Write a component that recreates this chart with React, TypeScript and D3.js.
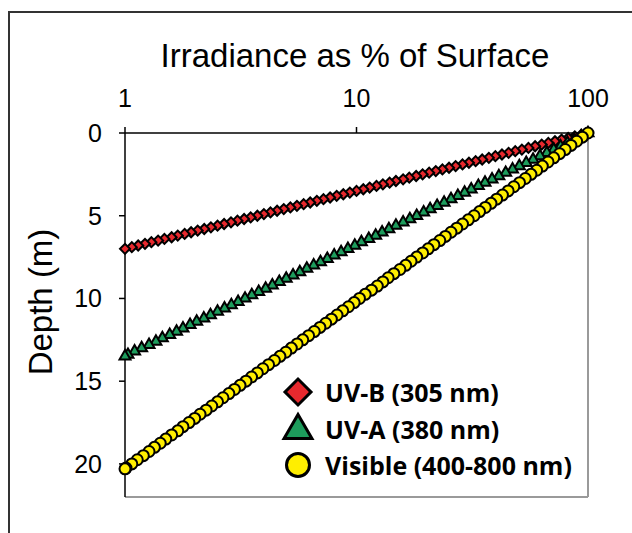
import React from "react";
import * as d3 from "d3";

// depth (m) and irradiance (% of surface)
const uvbDepth = [0, 0.1, 0.2, 0.3, 0.4, 0.5, 0.6, 0.7, 0.8, 0.9, 1.0, 1.1, 1.2, 1.3, 1.4, 1.5, 1.6, 1.7, 1.8, 1.9, 2.0, 2.1, 2.2, 2.3, 2.4, 2.5, 2.6, 2.7, 2.8, 2.9, 3.0, 3.1, 3.2, 3.3, 3.4, 3.5, 3.6, 3.7, 3.8, 3.9, 4.0, 4.1, 4.2, 4.3, 4.4, 4.5, 4.6, 4.7, 4.8, 4.9, 5.0, 5.1, 5.2, 5.3, 5.4, 5.5, 5.6, 5.7, 5.8, 5.9, 6.0, 6.1, 6.2, 6.3, 6.4, 6.5, 6.6, 6.7, 6.8, 6.9, 7.0];
const uvbPct = [100, 93.6, 87.7, 82.1, 76.9, 72.0, 67.4, 63.1, 59.1, 55.3, 51.8, 48.5, 45.4, 42.5, 39.8, 37.3, 34.9, 32.7, 30.6, 28.7, 26.8, 25.1, 23.5, 22.0, 20.6, 19.3, 18.1, 16.9, 15.9, 14.8, 13.9, 13.0, 12.2, 11.4, 10.7, 10.0, 9.36, 8.77, 8.21, 7.69, 7.20, 6.74, 6.31, 5.91, 5.53, 5.18, 4.85, 4.54, 4.25, 3.98, 3.73, 3.49, 3.27, 3.06, 2.87, 2.68, 2.51, 2.35, 2.20, 2.06, 1.93, 1.81, 1.69, 1.59, 1.48, 1.39, 1.30, 1.22, 1.14, 1.07, 1.0];

const uvaDepth = [0, 0.2, 0.4, 0.6, 0.8, 1.0, 1.2, 1.4, 1.6, 1.8, 2.0, 2.2, 2.4, 2.6, 2.8, 3.0, 3.2, 3.4, 3.6, 3.8, 4.0, 4.2, 4.4, 4.6, 4.8, 5.0, 5.2, 5.4, 5.6, 5.8, 6.0, 6.2, 6.4, 6.6, 6.8, 7.0, 7.2, 7.4, 7.6, 7.8, 8.0, 8.2, 8.4, 8.6, 8.8, 9.0, 9.2, 9.4, 9.6, 9.8, 10.0, 10.2, 10.4, 10.6, 10.8, 11.0, 11.2, 11.4, 11.6, 11.8, 12.0, 12.2, 12.4, 12.6, 12.8, 13.0, 13.2, 13.4, 13.5];
const uvaPct = [100, 93.4, 87.2, 81.5, 76.1, 71.1, 66.4, 62.0, 57.9, 54.1, 50.5, 47.2, 44.1, 41.2, 38.5, 35.9, 33.6, 31.3, 29.3, 27.4, 25.6, 23.9, 22.3, 20.8, 19.5, 18.2, 17.0, 15.9, 14.8, 13.8, 12.9, 12.1, 11.3, 10.5, 9.83, 9.18, 8.58, 8.01, 7.48, 6.99, 6.53, 6.10, 5.69, 5.32, 4.97, 4.64, 4.33, 4.05, 3.78, 3.53, 3.30, 3.08, 2.88, 2.69, 2.51, 2.34, 2.19, 2.04, 1.91, 1.78, 1.67, 1.56, 1.45, 1.36, 1.27, 1.18, 1.10, 1.03, 1.0];

const visDepth = [0, 0.25, 0.5, 0.75, 1.0, 1.25, 1.5, 1.75, 2.0, 2.25, 2.5, 2.75, 3.0, 3.25, 3.5, 3.75, 4.0, 4.25, 4.5, 4.75, 5.0, 5.25, 5.5, 5.75, 6.0, 6.25, 6.5, 6.75, 7.0, 7.25, 7.5, 7.75, 8.0, 8.25, 8.5, 8.75, 9.0, 9.25, 9.5, 9.75, 10.0, 10.25, 10.5, 10.75, 11.0, 11.25, 11.5, 11.75, 12.0, 12.25, 12.5, 12.75, 13.0, 13.25, 13.5, 13.75, 14.0, 14.25, 14.5, 14.75, 15.0, 15.25, 15.5, 15.75, 16.0, 16.25, 16.5, 16.75, 17.0, 17.25, 17.5, 17.75, 18.0, 18.25, 18.5, 18.75, 19.0, 19.25, 19.5, 19.75, 20.0, 20.25, 20.3];
const visPct = [100, 94.5, 89.3, 84.4, 79.7, 75.3, 71.1, 67.2, 63.5, 60.0, 56.7, 53.6, 50.6, 47.8, 45.2, 42.7, 40.3, 38.1, 36.0, 34.0, 32.2, 30.4, 28.7, 27.1, 25.6, 24.2, 22.9, 21.6, 20.4, 19.3, 18.2, 17.2, 16.3, 15.4, 14.5, 13.7, 13.0, 12.3, 11.6, 10.9, 10.3, 9.77, 9.23, 8.72, 8.24, 7.79, 7.36, 6.95, 6.57, 6.21, 5.86, 5.54, 5.23, 4.95, 4.67, 4.42, 4.17, 3.94, 3.73, 3.52, 3.33, 3.14, 2.97, 2.81, 2.65, 2.51, 2.37, 2.24, 2.11, 2.0, 1.89, 1.78, 1.69, 1.59, 1.50, 1.42, 1.34, 1.27, 1.20, 1.13, 1.07, 1.01, 1.0];

const seriesNames = ["UV-B (305 nm)", "UV-A (380 nm)", "Visible (400-800 nm)"];
const xTicks = [1, 10, 100];
const yTicks = [0, 5, 10, 15, 20];

const W = 632;
const H = 533;
const left = 125;
const right = 588;
const top = 133;
const bottom = 497;

const x = d3.scaleLog().domain([1, 100]).range([left, right]);
const y = d3.scaleLinear().domain([0, 22]).range([top, bottom]);

const diamond = d3.symbol().type(d3.symbolSquare);
const triangle = d3.symbol().type(d3.symbolTriangle);
const circle = d3.symbol().type(d3.symbolCircle);

const RED = "#e8292e";
const GREEN = "#1d9c5c";
const YELLOW = "#ffee00";

const font = "Liberation Sans, Arial, sans-serif";

export default function App() {
  const series = [
    { name: seriesNames[0], depth: uvbDepth, pct: uvbPct, fill: RED, kind: "diamond", size: 10 },
    { name: seriesNames[1], depth: uvaDepth, pct: uvaPct, fill: GREEN, kind: "triangle", size: 11 },
    { name: seriesNames[2], depth: visDepth, pct: visPct, fill: YELLOW, kind: "circle", size: 11 },
  ];

  const markPath = (kind: string, s: number) => {
    if (kind === "diamond") return diamond.size(s * s * 0.5)()!;
    if (kind === "triangle") return triangle.size(s * s * 0.43)()!;
    return circle.size((Math.PI * s * s) / 4)()!;
  };
  const markRot = (kind: string) => (kind === "diamond" ? " rotate(45)" : "");

  return (
    <svg width={W} height={H} style={{ position: "absolute", left: 0, top: 0, background: "#fff" }}>
      <rect x={9} y={12} width={W + 20} height={H + 20} fill="#fff" stroke="#333" strokeWidth={2} />

      <text x={355} y={67} textAnchor="middle" fontFamily={font} fontSize={33}>
        Irradiance as % of Surface
      </text>
      <text transform="translate(52,302) rotate(-90)" textAnchor="middle" fontFamily={font} fontSize={33}>
        Depth (m)
      </text>

      {/* plot frame */}
      <line x1={right} x2={right} y1={top} y2={bottom} stroke="#9a9a9a" strokeWidth={2} />
      <line x1={left} x2={right} y1={bottom} y2={bottom} stroke="#9a9a9a" strokeWidth={2} />

      {/* top x axis */}
      <line x1={left} x2={right} y1={top} y2={top} stroke="#000" strokeWidth={1.5} />
      {xTicks.map((t) => (
        <g key={t}>
          <line x1={x(t)} x2={x(t)} y1={top - 6} y2={top} stroke="#000" strokeWidth={1.5} />
          <text x={x(t)} y={107} textAnchor="middle" fontFamily={font} fontSize={25}>
            {t}
          </text>
        </g>
      ))}

      {/* left y axis */}
      <line x1={left} x2={left} y1={top} y2={bottom} stroke="#000" strokeWidth={1.5} />
      {yTicks.map((t) => (
        <g key={t}>
          <line x1={left - 6} x2={left} y1={y(t)} y2={y(t)} stroke="#000" strokeWidth={1.5} />
          <text x={102} y={y(t) + 9} textAnchor="end" fontFamily={font} fontSize={25}>
            {t}
          </text>
        </g>
      ))}

      {/* data */}
      {series.map((s) => (
        <g key={s.name}>
          {s.depth.map((d, i) => (
            <path
              key={i}
              d={markPath(s.kind, s.size)}
              transform={`translate(${x(s.pct[i])},${y(d)})${markRot(s.kind)}`}
              fill={s.fill}
              stroke="#000"
              strokeWidth={2}
            />
          ))}
        </g>
      ))}

      {/* legend */}
      {series.map((s, i) => {
        const cy = 392 + i * 36.5;
        return (
          <g key={s.name}>
            <path
              d={markPath(s.kind, s.kind === "diamond" ? 26 : s.kind === "triangle" ? 28 : 23)}
              transform={`translate(298,${cy + (s.kind === "triangle" ? 2 : 0)})${markRot(s.kind)}`}
              fill={s.fill}
              stroke="#000"
              strokeWidth={3}
            />
            <text x={325} y={cy + 10} fontFamily="Open Sans, sans-serif" fontWeight="bold" fontSize={25}>
              {s.name}
            </text>
          </g>
        );
      })}
    </svg>
  );
}
